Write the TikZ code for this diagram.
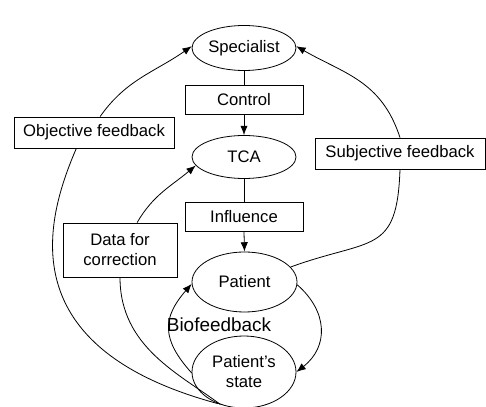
\documentclass[tikz,border=0pt]{standalone}
\usepackage{fontspec}
\setmainfont{Liberation Sans}
\usetikzlibrary{shapes.geometric,arrows.meta}
\begin{document}
\begin{tikzpicture}[x=.75pt,y=.75pt,line width=.6pt,
  font=\fontsize{12.5}{15}\selectfont,
  state/.style={draw,ellipse,inner sep=0pt,minimum width=78pt},
  lbox/.style={draw,fill=white,inner sep=0pt,minimum height=23.25pt},
  arr/.style={-{Latex[length=7pt,width=5.5pt]}}]
  \useasboundingbox (0,0) rectangle (486,407);
  \node[state,minimum height=33.75pt] (spec) at (244,359) {Specialist};
  \node[lbox,minimum width=88.5pt,minimum height=21.75pt] (ctrl) at (244,307.5) {Control};
  \node[state,minimum height=32.25pt] (tca) at (244,250) {TCA};
  \node[lbox,minimum width=88.5pt,minimum height=21.75pt] (infl) at (244,190) {Influence};
  \node[state,minimum width=78.75pt,minimum height=45pt] (pat) at (244.5,125) {Patient};
  \node[state,minimum height=54pt,align=center] (pst) at (244,35) {Patient's\\state};
  \node[lbox,minimum width=120pt] (obj) at (94,274.5) {Objective feedback};
  \node[lbox,minimum width=127.5pt] (subj) at (400,253.5) {Subjective feedback};
  \node[lbox,minimum width=85.5pt,minimum height=40.5pt,align=center] (corr) at (120,157) {Data for\\correction};
  \node[font=\fontsize{14.2}{16}\selectfont] (bio) at (219,82) {Biofeedback};
  % main chain
  \draw (spec.south)--(ctrl.north);
  \draw[arr] (ctrl.south)--(tca.north);
  \draw (tca.south)--(infl.north);
  \draw[arr] (infl.south)--(pat.north);
  % feedback loops
  \draw (pst.231) .. controls +(165:215) and +(246.6:80) .. (obj.222);
  \draw[arr] (obj.69) to[out=55,in=-145] (spec.178);
  \draw (pst.234) .. controls +(143:50) and +(-90:70) .. (corr.south);
  \draw[arr] (corr.58) to[out=60,in=-140] (tca.190);
  \draw (pat.18) to[out=20,in=-92,looseness=1.5] (subj.south);
  \draw[arr] (subj.north) .. controls +(108:60) and +(-30:55) .. (spec.2);
  \draw[arr] (pst.181) to[out=132,in=-131,looseness=1.3] (pat.182);
  \draw[arr] (pat.-3) to[out=-41,in=38,looseness=1.2] (pst.0);
\end{tikzpicture}
\end{document}
